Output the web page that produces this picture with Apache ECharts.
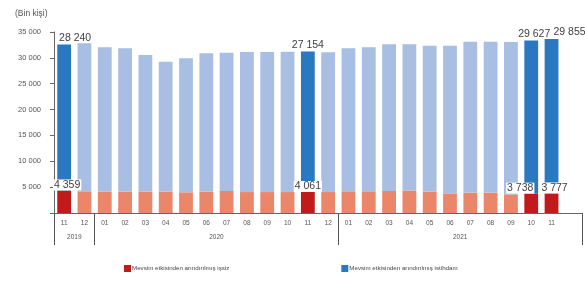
<!DOCTYPE html>
<html>
<head>
<meta charset="utf-8">
<script src="https://cdn.jsdelivr.net/npm/echarts@6/dist/echarts.min.js"></script>
<style>
  html, body { margin: 0; padding: 0; background: #fff; }
  #chart { width: 585px; height: 281px; }
</style>
</head>
<body>
<div id="chart"></div>
<script>
// months, 2019-11 .. 2021-11 (last slot is the empty 2021-12)
const months = ['11', '12', '01', '02', '03', '04', '05', '06', '07', '08', '09', '10', '11', '12',
  '01', '02', '03', '04', '05', '06', '07', '08', '09', '10', '11', '']
const years = ['2019', '2020', '2021']
// thousand persons, seasonally adjusted
const unemployed = [4359, 4200, 4150, 4150, 4150, 4150, 4000, 4150, 4250, 4050, 4050, 4050, 4061, 4050,
  4200, 4200, 4250, 4350, 4150, 3800, 3950, 3950, 3600, 3738, 3777]
const employed = [28240, 28620, 27900, 27700, 26400, 25110, 25920, 26740, 26750, 27090, 27090, 27150, 27154, 27030,
  27650, 27850, 28400, 28280, 28200, 28550, 29180, 29180, 29450, 29627, 29855]
const highlighted = [0, 12, 23, 24]
const yTicks = [0, 5000, 10000, 15000, 20000, 25000, 30000, 35000]

const fmt = v => String(v).replace(/\B(?=(\d{3})+(?!\d))/g, ' ')

const redDark = '#c01a1a', redLight = '#ea876a'
const blueDark = '#2a79c0', blueLight = '#a9bee3'
const txt = '#555'

// label nudges so the numbers do not overlap
const blueShift = { 0: 11, 23: 3, 24: 18 }
const redShift = { 0: 3, 23: -11, 24: 3 }

const redData = unemployed.map((v, i) => {
  const hi = highlighted.includes(i)
  return {
    value: v,
    itemStyle: { color: hi ? redDark : redLight },
    label: hi ? {
      show: true, position: 'top', distance: 1, offset: [redShift[i] || 0, 1],
      formatter: p => fmt(p.value), backgroundColor: '#fff', padding: [0, 1]
    } : { show: false }
  }
})
const blueData = employed.map((v, i) => {
  const hi = highlighted.includes(i)
  return {
    value: v,
    itemStyle: { color: hi ? blueDark : blueLight },
    label: hi ? {
      show: true, position: 'top', distance: 1, offset: [blueShift[i] || 0, 0],
      formatter: p => fmt(p.value)
    } : { show: false }
  }
})

const chart = echarts.init(document.getElementById('chart'))
chart.setOption({
  animation: false,
  textStyle: { fontFamily: 'Liberation Sans, Arial, sans-serif' },
  title: {
    text: '(Bin kişi)', left: 10, top: 4,
    textStyle: { fontSize: 8.5, fontWeight: 'normal', color: txt }
  },
  legend: {
    bottom: 4, left: 119, itemGap: 112, itemWidth: 7, itemHeight: 7, icon: 'rect',
    textStyle: { fontSize: 6.2, color: '#444', padding: [0, 0, 0, -4] },
    data: [
      { name: 'Mevsim etkisinden arındırılmış işsiz', itemStyle: { color: redDark } },
      { name: 'Mevsim etkisinden arındırılmış istihdam', itemStyle: { color: blueDark } }
    ]
  },
  grid: { left: 54, right: 3, top: 32, bottom: 68 },
  xAxis: [
    {
      type: 'category', data: months,
      axisLine: { lineStyle: { color: '#666', width: 1 } },
      axisTick: { show: false },
      axisLabel: { fontSize: 6.5, color: txt, margin: 7, interval: 0 }
    },
    {
      type: 'value', min: 0, max: months.length, position: 'bottom',
      axisLine: { show: false },
      splitLine: { show: false },
      axisTick: { show: true, length: 32, customValues: [0, 2, 14, 26], lineStyle: { color: '#555' } },
      axisLabel: {
        fontSize: 6.5, color: txt, margin: 21, customValues: [1, 8, 20],
        formatter: v => ({ 1: years[0], 8: years[1], 20: years[2] }[v] || '')
      }
    }
  ],
  yAxis: {
    type: 'value', min: yTicks[0], max: yTicks[yTicks.length - 1], interval: 5000,
    axisLine: { show: true, lineStyle: { color: '#666' } },
    axisTick: { show: true, length: 4, lineStyle: { color: '#666' } },
    splitLine: { show: false },
    axisLabel: { fontSize: 7.5, color: txt, margin: 13, formatter: v => v === 0 ? '' : fmt(v) }
  },
  series: [
    {
      name: 'Mevsim etkisinden arındırılmış işsiz', type: 'bar', stack: 'total',
      barWidth: '68%', data: redData,
      label: { fontSize: 10.5, color: '#404040' }
    },
    {
      name: 'Mevsim etkisinden arındırılmış istihdam', type: 'bar', stack: 'total',
      barWidth: '68%', data: blueData,
      label: { fontSize: 10.5, color: '#404040' }
    }
  ]
})
</script>
</body>
</html>
